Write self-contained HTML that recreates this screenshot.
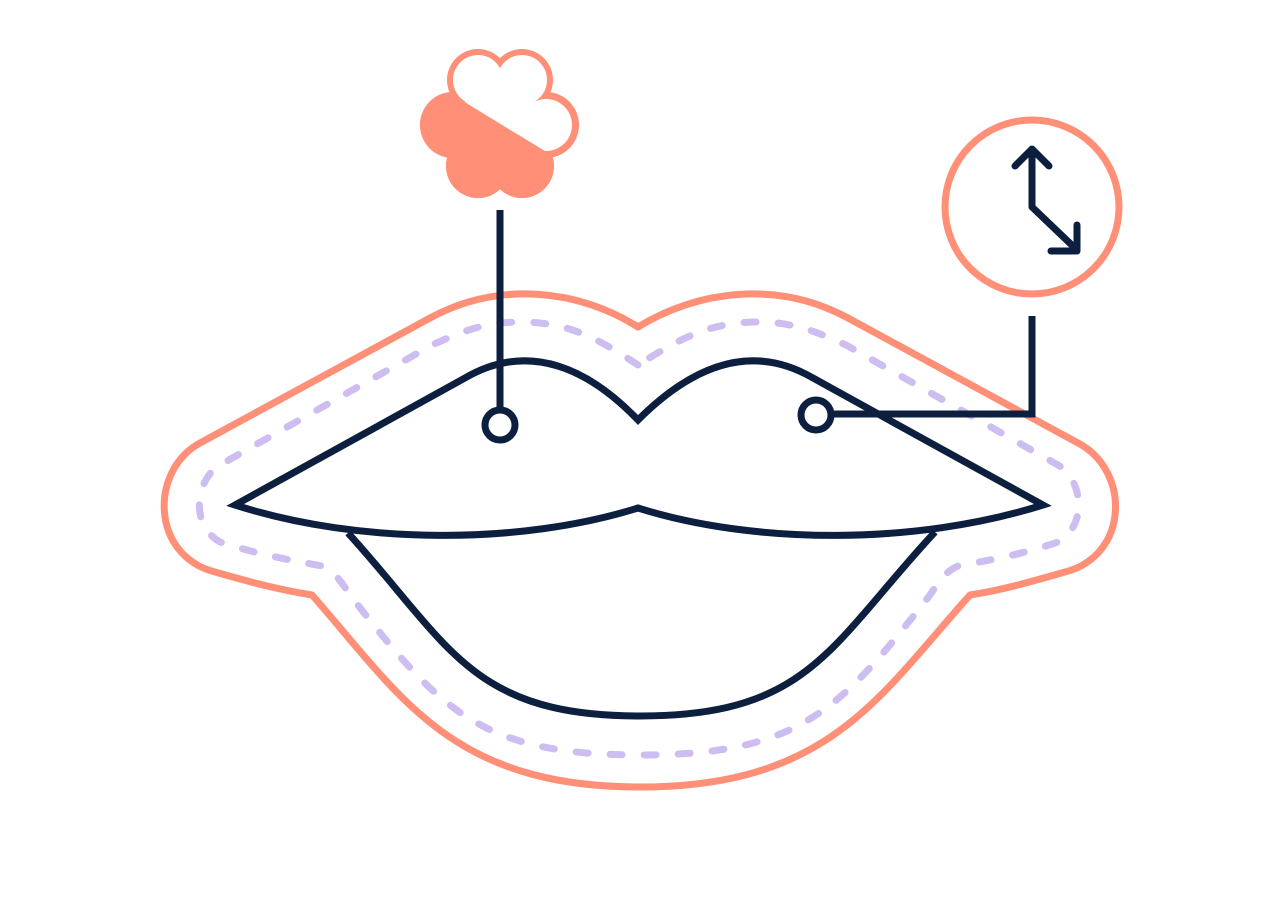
<!DOCTYPE html>
<html><head><style>body{margin:0;background:#fff}svg{display:block}</style></head><body>
<svg width="1278" height="920" viewBox="0 0 1278 920" xmlns="http://www.w3.org/2000/svg">
<defs>
<clipPath id="lower"><polygon points="380,50 448,92 548,153 620,190 620,220 380,220"/></clipPath>
</defs>
<!-- outer coral outline -->
<path d="M638,327 C580,290 500,280 430,318 L200,443 C150,470 150,555 215,572 C250,582 280,590 312,595 C400,695 450,787 640,787 C830,787 880,695 970,595 C1002,590 1030,582 1065,572 C1130,555 1130,470 1078,443 L848,318 C778,280 698,290 638,327 Z" fill="none" stroke="#ff8f76" stroke-width="7" stroke-linejoin="round"/>
<!-- dashed -->
<path d="M638,365 C600,340 570,322 520,322 C480,322 455,335 432,345 L220,465 C195,480 190,525 220,542 C260,555 290,560 322,566 C335,572 340,580 350,595 C440,710 480,755 640,755 C800,755 840,710 930,595 C940,580 945,572 958,566 C990,560 1020,555 1058,542 C1088,525 1083,480 1058,465 L846,345 C823,335 798,322 758,322 C708,322 678,340 638,365 Z" fill="none" stroke="#cdbdf0" stroke-width="7" stroke-linecap="round" stroke-dasharray="12 22"/>
<!-- navy lips -->
<g fill="none" stroke="#0c1f3f" stroke-width="7" stroke-linejoin="miter">
<path d="M638,420 C590,370 530,340 465,378 L235,505 C360,545 520,545 638,508 C756,545 916,545 1043,505 L813,378 C748,340 688,370 638,420 Z"/>
<path d="M348,533 C450,645 470,716 640,716 C810,716 830,645 935,532"/>
<line x1="500" y1="210" x2="500" y2="408"/>
<circle cx="500" cy="425" r="15" fill="#fff"/>
<polyline points="1032,316 1032,414 832,414"/>
<circle cx="816" cy="415" r="15" fill="#fff"/>
</g>
<!-- clock -->
<circle cx="1032" cy="207" r="87" fill="#fff" stroke="#ff8f76" stroke-width="7"/>
<g fill="none" stroke="#0c1f3f" stroke-width="7" stroke-linecap="round" stroke-linejoin="round">
<polyline points="1032,150 1032,207 1077,250"/>
<polyline points="1015,166 1032,149 1049,166"/>
<polyline points="1051,251 1077,251 1077,225"/>
</g>
<!-- flower -->
<g fill="#ff8f76">
<circle cx="478" cy="80" r="31"/><circle cx="522" cy="80" r="31"/>
<circle cx="453" cy="125" r="33"/><circle cx="546" cy="125" r="33"/>
<circle cx="478" cy="166" r="32"/><circle cx="522" cy="166" r="32"/>
<polygon points="478,80 522,80 548,125 522,167 478,167 451,125"/>
</g>
<g fill="#fff">
<circle cx="478" cy="80" r="25"/><circle cx="522" cy="80" r="25"/>
<circle cx="453" cy="125" r="26"/><circle cx="546" cy="125" r="26"/>
<circle cx="478" cy="166" r="25"/><circle cx="522" cy="166" r="25"/>
<polygon points="478,80 522,80 548,125 522,167 478,167 451,125"/>
</g>
<g clip-path="url(#lower)" fill="#ff8f76">
<circle cx="478" cy="80" r="31"/><circle cx="522" cy="80" r="31"/>
<circle cx="453" cy="125" r="33"/><circle cx="546" cy="125" r="33"/>
<circle cx="478" cy="166" r="32"/><circle cx="522" cy="166" r="32"/>
<polygon points="478,80 522,80 548,125 522,167 478,167 451,125"/>
</g>
</svg>
</body></html>
